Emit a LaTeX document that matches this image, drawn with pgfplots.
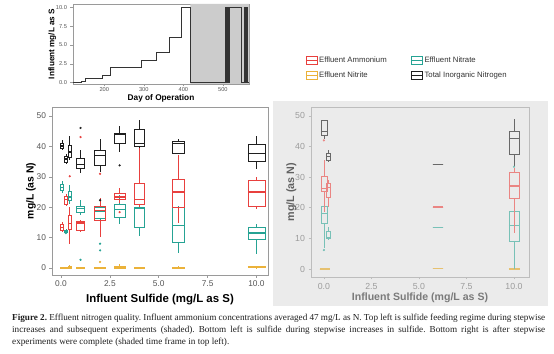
\documentclass[border=0pt]{standalone}
\usepackage{fontspec}
\setmainfont{Liberation Sans}
\newfontfamily\capfont{Liberation Serif}
\usepackage{pgfplots}
\pgfplotsset{compat=1.18}
\usepgfplotslibrary{statistics}
\definecolor{cRed}{HTML}{E8403E}
\definecolor{cTeal}{HTML}{26A394}
\definecolor{cGold}{HTML}{EBB23A}
\definecolor{cBlk}{HTML}{1F1F1F}
\definecolor{fRed}{HTML}{EA8583}
\definecolor{fTeal}{HTML}{78C1B7}
\definecolor{fGold}{HTML}{E6C170}
\definecolor{fBlk}{HTML}{686868}
\definecolor{bgGrey}{HTML}{EBEBEB}
\definecolor{shade}{HTML}{CCCCCC}
\definecolor{frameL}{HTML}{9A9A9A}
\definecolor{frameR}{HTML}{BDBDBD}
\definecolor{tickT}{HTML}{555555}
\definecolor{tickF}{HTML}{9C9C9C}
\definecolor{labF}{HTML}{7A7A7A}
\newcommand{\bx}[8]{\addplot[draw=#1, solid, line width=0.6pt, mark=none, forget plot, boxplot prepared={draw direction=y, draw position=#2, box extend=#3, whisker extend=0, lower whisker=#4, lower quartile=#5, median=#6, upper quartile=#7, upper whisker=#8, every median/.style={line width=1.3pt}}] coordinates {};}
\pgfplotsset{
  common/.style={scale only axis, anchor=south west, tick align=outside, xtick pos=bottom, ytick pos=left,
    major tick length=2.5bp,
    ticklabel style={/pgf/number format/assume math mode=true},
    clip=true},
}
\begin{document}
\begin{tikzpicture}
\useasboundingbox[fill=white] (0bp,0bp) rectangle (554bp,354bp);
% grey background of right panel
\fill[bgGrey] (273bp,48bp) rectangle (548bp,253bp);
% ---------------- top axis ----------------
\begin{axis}[common, at={(73bp,270bp)}, width=176bp, height=80bp,
  xmin=121, xmax=566, ymin=-0.17, ymax=10.44,
  xtick={200,300,400,500}, ytick={0,2.5,5,7.5,10},
  yticklabel style={/pgf/number format/.cd, fixed, fixed zerofill, precision=1},
  ticklabel style={font=\fontsize{5.7}{6}\selectfont, text=tickT},
  xticklabel style={inner sep=1bp},
  axis line style={draw=frameL, line width=0.6pt},
  tick style={draw=frameL, line width=0.5pt},
  xlabel={Day of Operation}, ylabel={Influent mg/L as S},
  xlabel style={font=\bfseries\fontsize{8.3}{9}\selectfont, at={(axis description cs:0.5,-0.18)}, anchor=center},
  ylabel style={font=\bfseries\fontsize{8.2}{9}\selectfont, at={(axis description cs:-0.118,0.5)}, anchor=center},
  ]
\addplot[fill=shade, draw=none] coordinates {(418,-0.17) (566,-0.17) (566,10.44) (418,10.44)} \closedcycle;
\addplot[const plot, draw=black!80, line width=1.1pt] coordinates {
(121,0) (143,0.2) (153,0.5) (195,1) (216,2) (294,3) (333,4) (364,6) (396,10) (418,0)
(507,10) (508,0) (509,10) (510,0) (511,10) (512,0) (513,10) (514,0) (515,10) (516,0) (517,10) (518,10)
(547,6) (548,0) (556,10) (557,0) (559,10) (561,0) (566,0)};
\end{axis}
% ---------------- bottom-left axis ----------------
\begin{axis}[common, at={(52bp,79bp)}, width=216bp, height=168bp,
  xmin=-0.46, xmax=10.59, ymin=-2.3, ymax=53,
  xtick={0,2.5,5,7.5,10}, ytick={0,10,20,30,40,50},
  xticklabel style={/pgf/number format/.cd, fixed, fixed zerofill, precision=1},
  ticklabel style={font=\fontsize{8.4}{9}\selectfont, text=tickT},
  axis line style={draw=frameL, line width=0.8pt},
  tick style={draw=frameL, line width=0.6pt},
  xlabel={Influent Sulfide (mg/L as S)}, ylabel={mg/L (as N)},
  xlabel style={font=\bfseries\fontsize{11.5}{12}\selectfont, at={(axis description cs:0.5,-0.149)}, anchor=center},
  ylabel style={font=\bfseries\fontsize{10.4}{11}\selectfont, at={(axis description cs:-0.097,0.5)}, anchor=center},
  legend columns=2,
  legend cell align=left,
  legend style={at={(1.174,1.31)}, anchor=north west, draw=none, fill=none, inner sep=0pt,
    font=\fontsize{7.8}{8}\selectfont, text=black!80,
    /tikz/every even column/.append style={column sep=23bp}, row sep=5bp, nodes={inner sep=1.5bp}},
  legend image code/.code={\draw[#1, line width=0.8pt] (0bp,-3.8bp) rectangle (11bp,3.8bp); \draw[#1, line width=0.8pt] (0bp,0bp) -- (11bp,0bp);},
  ]
\addlegendimage{cRed}\addlegendentry{Effluent Ammonium}
\addlegendimage{cTeal}\addlegendentry{Effluent Nitrate}
\addlegendimage{cGold}\addlegendentry{Effluent Nitrite}
\addlegendimage{cBlk}\addlegendentry{Total Inorganic Nitrogen}
% nitrite
\bx{cGold}{0.05}{0.17}{0}{0}{0.1}{0.2}{0.3}
\bx{cGold}{0.25}{0.17}{0}{0}{0.1}{0.2}{0.3}
\bx{cGold}{0.45}{0.17}{0}{0}{0.2}{0.4}{1.0}
\bx{cGold}{1}{0.43}{0}{0}{0.1}{0.2}{0.3}
\bx{cGold}{2}{0.55}{0}{0}{0.1}{0.2}{0.4}
\bx{cGold}{3}{0.55}{0}{0}{0.2}{0.4}{1.2}
\bx{cGold}{4}{0.48}{0}{0}{0.1}{0.2}{0.3}
\bx{cGold}{6}{0.57}{0}{0}{0.1}{0.3}{0.5}
\bx{cGold}{10}{0.88}{0}{0.1}{0.3}{0.4}{0.6}
\addplot[only marks, mark=*, mark size=0.9bp, cGold, forget plot] coordinates {(2,2.0)};
% nitrate
\bx{cTeal}{0.05}{0.17}{24.7}{25.5}{26.4}{27.7}{28.8}
\bx{cTeal}{0.25}{0.17}{11.6}{11.9}{12.2}{12.5}{12.8}
\bx{cTeal}{0.45}{0.17}{21.2}{22.3}{23.4}{25.3}{27.2}
\bx{cTeal}{1}{0.43}{17.3}{18.2}{19.5}{20.3}{22.5}
\bx{cTeal}{2}{0.55}{12.5}{16.5}{18.5}{20.0}{22.0}
\bx{cTeal}{3}{0.55}{14.6}{16.6}{19.2}{20.9}{23.9}
\bx{cTeal}{4}{0.48}{10.4}{13.3}{19.8}{20.1}{20.6}
\bx{cTeal}{6}{0.57}{4.9}{8.6}{14.0}{20.1}{20.3}
\bx{cTeal}{10}{0.88}{4.7}{9.3}{11.5}{13.3}{14.6}
\addplot[only marks, mark=*, mark size=0.9bp, cTeal, forget plot] coordinates {(1,2.7) (2,8.0) (2,5.8) (0.25,11.5)};
% ammonium
\bx{cRed}{0.05}{0.17}{11.8}{12.4}{13.4}{14.4}{15.1}
\bx{cRed}{0.25}{0.17}{20.3}{20.9}{22.5}{23.6}{24.5}
\bx{cRed}{0.45}{0.17}{8.0}{12.9}{14.6}{17.3}{20.1}
\bx{cRed}{1}{0.43}{11.7}{12.4}{14.8}{15.4}{15.9}
\bx{cRed}{2}{0.55}{10.2}{15.7}{19.0}{20.3}{23.1}
\bx{cRed}{3}{0.55}{21.4}{22.5}{23.4}{24.5}{26.4}
\bx{cRed}{4}{0.48}{20.1}{20.9}{22.5}{28.0}{39.8}
\bx{cRed}{6}{0.57}{14.8}{20.1}{25.0}{29.1}{37.1}
\bx{cRed}{10}{0.88}{19.5}{20.3}{25.0}{28.8}{30.0}
\addplot[only marks, mark=*, mark size=0.9bp, cRed, forget plot] coordinates {(0.45,30.2) (1,43.1) (2,31.0) (3,18.4)};
% TIN
\bx{cBlk}{0.05}{0.17}{38.7}{39.3}{40.2}{41.1}{42.2}
\bx{cBlk}{0.25}{0.17}{34.3}{34.9}{35.9}{36.7}{37.6}
\bx{cBlk}{0.45}{0.17}{35.6}{36.5}{38.2}{40.4}{43.6}
\bx{cBlk}{1}{0.43}{31.3}{32.7}{34.1}{36.0}{38.7}
\bx{cBlk}{2}{0.55}{31.6}{33.8}{37.1}{38.9}{42.5}
\bx{cBlk}{3}{0.55}{38.2}{40.9}{43.9}{44.4}{46.6}
\bx{cBlk}{4}{0.48}{39.5}{40.0}{40.9}{45.8}{48.6}
\bx{cBlk}{6}{0.57}{37.6}{37.8}{40.9}{41.8}{42.5}
\bx{cBlk}{10}{0.88}{32.7}{35.1}{37.6}{40.7}{43.3}
\addplot[only marks, mark=*, mark size=0.9bp, cBlk, forget plot] coordinates {(1,46.1) (2,22.3) (3,33.8)};
\end{axis}
% ---------------- bottom-right axis ----------------
\begin{axis}[common, at={(311bp,77bp)}, width=218bp, height=170bp,
  xmin=-0.68, xmax=10.79, ymin=-2.6, ymax=52.9,
  axis background/.style={fill=bgGrey},
  xtick={0,2.5,5,7.5,10}, ytick={0,10,20,30,40,50},
  xticklabel style={/pgf/number format/.cd, fixed, fixed zerofill, precision=1},
  ticklabel style={font=\fontsize{8.8}{9}\selectfont, text=tickF},
  axis line style={draw=frameR, line width=0.8pt},
  tick style={draw=frameR, line width=0.6pt},
  xlabel={Influent Sulfide (mg/L as S)}, ylabel={mg/L (as N)},
  xlabel style={font=\bfseries\fontsize{10.6}{11}\selectfont, text=labF, at={(axis description cs:0.5,-0.124)}, anchor=center},
  ylabel style={font=\bfseries\fontsize{10.8}{11}\selectfont, text=black!62, at={(axis description cs:-0.09,0.5)}, anchor=center},
  ]
\bx{fGold}{0.05}{0.53}{0}{0}{0}{0}{0}
\bx{fGold}{6}{0.53}{0.2}{0.2}{0.2}{0.2}{0.2}
\bx{fGold}{10}{0.53}{0}{0}{0}{0.1}{0.2}
\bx{fTeal}{0}{0.32}{7.0}{14.9}{18.2}{20.5}{20.5}
\bx{fTeal}{0.25}{0.2}{9.7}{9.9}{10.3}{12.2}{13.8}
\bx{fTeal}{6}{0.53}{13.6}{13.6}{13.6}{13.6}{13.6}
\bx{fTeal}{10}{0.53}{0}{9.2}{14.3}{18.7}{18.7}
\addplot[only marks, mark=*, mark size=0.9bp, fTeal, forget plot] coordinates {(0,6.2) (10,33.4)};
\bx{fRed}{0}{0.32}{18.7}{25.5}{26.3}{30.3}{35.5}
\bx{fRed}{0.25}{0.2}{20.3}{23.4}{26.6}{27.9}{29.0}
\bx{fRed}{6}{0.53}{20.3}{20.3}{20.3}{20.3}{20.3}
\bx{fRed}{10}{0.53}{11.8}{23.0}{27.1}{31.7}{33.0}
\addplot[only marks, mark=*, mark size=0.9bp, fRed, forget plot] coordinates {(0,42.0)};
\bx{fBlk}{0}{0.32}{42.5}{43.5}{45.0}{48.5}{48.6}
\bx{fBlk}{0.25}{0.2}{35.0}{35.5}{36.8}{37.9}{38.8}
\bx{fBlk}{6}{0.53}{34.1}{34.1}{34.1}{34.1}{34.1}
\bx{fBlk}{10}{0.53}{33.4}{37.5}{42.6}{45.1}{49.1}
\end{axis}
% ---------------- caption ----------------
\node[anchor=north west, inner sep=0pt, text width=533bp, align=justify, text=black!88,
  font=\capfont\fontsize{9.2}{12}\selectfont] at (12bp,40bp)
{\frenchspacing\textbf{Figure 2.} Effluent nitrogen quality. Influent ammonium concentrations averaged 47 mg/L as N. Top left is sulfide feeding regime during stepwise\linebreak increases and subsequent experiments (shaded). Bottom left is sulfide during stepwise increases in sulfide. Bottom right is after stepwise\linebreak experiments were complete (shaded time frame in top left).};
\end{tikzpicture}
\end{document}
